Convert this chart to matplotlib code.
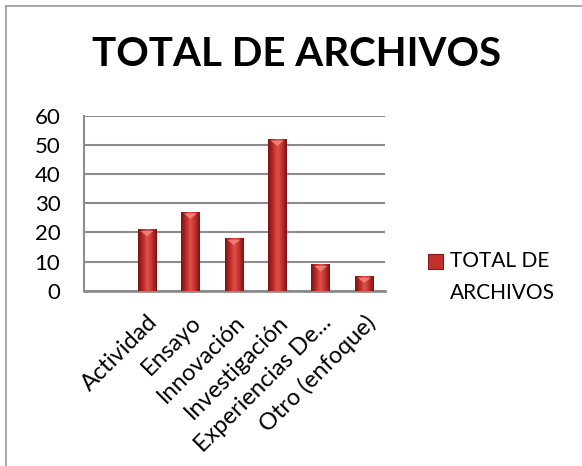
import numpy as np
import matplotlib.pyplot as plt
from matplotlib.patches import Rectangle
from matplotlib.lines import Line2D
from matplotlib.colors import LinearSegmentedColormap

# data
categorias = ['Actividad', 'Ensayo', 'Innovación', 'Investigación',
              'Experiencias De...', 'Otro (enfoque)']
valores = [21, 27, 18, 52, 9, 5]
serie = 'TOTAL DE\nARCHIVOS'

plt.rcParams['font.family'] = ['Lato', 'DejaVu Sans']

fig = plt.figure(figsize=(5.82, 4.66), dpi=100)
fig.patch.set_facecolor('white')

# chart frame (gray border, only top and left are visible)
fx, fy = 5.5 / 582, 1 - 5.5 / 466
fig.add_artist(Line2D([fx, fx], [0, fy], transform=fig.transFigure, color='#9a9a9a', lw=1.2))
fig.add_artist(Line2D([fx, 1], [fy, fy], transform=fig.transFigure, color='#9a9a9a', lw=1.2))

ax = fig.add_axes([84 / 582, 1 - 290.7 / 466, (385 - 84) / 582, (290.7 - 115.7) / 466])
x = np.arange(len(categorias))
bars = ax.bar(x, valores, width=0.43, color='#c0302c', zorder=3)

# cylinder-like shading
cmap = LinearSegmentedColormap.from_list('rojo', ['#7a1414', '#b82824', '#e0514c', '#c0302c', '#7a1414'])
grad = np.linspace(0, 1, 64).reshape(1, -1)
for b in bars:
    x0, w, h = b.get_x(), b.get_width(), b.get_height()
    im = ax.imshow(grad, cmap=cmap, aspect='auto', extent=(x0, x0 + w, 0, h), zorder=4)
    im.set_clip_path(b)
    ax.fill([x0 + w * 0.15, x0 + w / 2, x0 + w * 0.85], [h - 0.5, h - 2.4, h - 0.5],
            color='#ee7d76', zorder=5, lw=0)

ax.set_xlim(-1.45, 5.48)
ax.set_ylim(0, 60)
ax.set_yticks(range(0, 61, 10))
ax.yaxis.grid(True, color='#8c8c8c', lw=1.5, zorder=0)
ax.set_axisbelow(True)
for s in ['top', 'right']:
    ax.spines[s].set_visible(False)
ax.spines['left'].set_color('#8c8c8c')
ax.spines['left'].set_linewidth(1.5)
ax.spines['bottom'].set_color('#8c8c8c')
ax.spines['bottom'].set_linewidth(2)
ax.tick_params(axis='y', length=0, labelsize=16, pad=17)
ax.tick_params(axis='x', length=0, labelsize=17, pad=15)
ax.set_xticks(x)
ax.set_xticklabels(categorias, rotation=45, ha='right', va='top', rotation_mode='anchor')

fig.text(297 / 582, 1 - 55 / 466, 'TOTAL DE ARCHIVOS', ha='center', va='center',
         fontsize=29, fontweight='bold')

# legend
fig.patches.append(Rectangle((428 / 582, 1 - 269 / 466), 15 / 582, 15 / 466,
                             transform=fig.transFigure, facecolor='#c0302c',
                             edgecolor='#8a1a18', lw=0.8))
fig.text(450 / 582, 1 - 251 / 466, serie, ha='left', va='top', fontsize=15,
         linespacing=1.75)

fig.savefig('out.png', dpi=100)
